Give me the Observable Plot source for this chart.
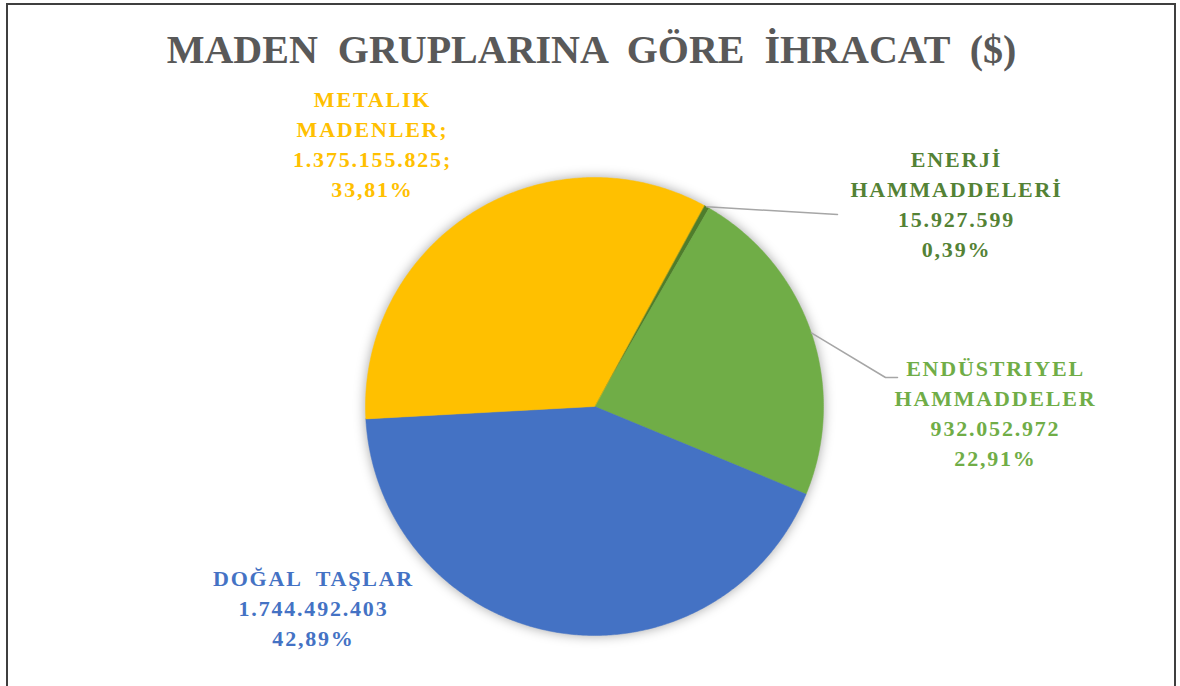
<!DOCTYPE html>
<html>
<head>
<meta charset="utf-8">
<script src="https://cdn.jsdelivr.net/npm/d3@7"></script>
<script src="https://cdn.jsdelivr.net/npm/@observablehq/plot@0.6"></script>
<style>
  html, body { margin: 0; padding: 0; background: #fff; }
  #wrap { position: relative; width: 1180px; height: 686px; overflow: hidden; }
  #frame { position: absolute; left: 6px; top: 3px; width: 1170px; height: 720px; border: 2px solid #3f3f3f; box-sizing: border-box; pointer-events: none; }
  svg text { white-space: pre; }
</style>
</head>
<body>
<div id="wrap"><div id="chart"></div><div id="frame"></div></div>
<script>
// ---- data ----
const title = "MADEN  GRUPLARINA  GÖRE  İHRACAT  ($)";
const categories = ["ENERJİ\nHAMMADDELERİ", "ENDÜSTRIYEL\nHAMMADDELER", "DOĞAL  TAŞLAR", "METALIK\nMADENLER;"];
const values = [15927599, 932052972, 1744492403, 1375155825];
const valueLabels = ["15.927.599", "932.052.972", "1.744.492.403", "1.375.155.825;"];
const percentLabels = ["0,39%", "22,91%", "42,89%", "33,81%"];

// ---- styles / layout ----
const sliceColors = ["#4E7D2C", "#70AD47", "#4472C4", "#FFC000"];
const labelColors = ["#548235", "#70AD47", "#4472C4", "#FFC000"];
const cx = 594, cy = 406, r = 229;
const startDeg = 28.6;
const labelPos = [[956, 202], [995, 411], [313, 606], [372, 142]];
const leaderEnds = [[[837, 214]], [[885, 377], [897, 377]], null, null];

const pie = d3.pie().sort(null).startAngle(startDeg * Math.PI / 180).endAngle((startDeg + 360) * Math.PI / 180)(values);

const polyPts = [];
pie.forEach((a, i) => {
  polyPts.push({x: cx, y: cy, k: i});
  const n = Math.max(2, Math.ceil((a.endAngle - a.startAngle) / (Math.PI / 360)));
  for (let j = 0; j <= n; j++) {
    const t = a.startAngle + (a.endAngle - a.startAngle) * j / n;
    polyPts.push({x: cx + r * Math.sin(t), y: cy - r * Math.cos(t), k: i});
  }
});

const leaderPts = [];
pie.forEach((a, i) => {
  if (!leaderEnds[i]) return;
  const m = (a.startAngle + a.endAngle) / 2;
  leaderPts.push({x: cx + r * Math.sin(m), y: cy - r * Math.cos(m), k: i});
  leaderEnds[i].forEach(([x, y]) => leaderPts.push({x, y, k: i}));
});

const labels = categories.map((c, i) => ({
  x: labelPos[i][0], y: labelPos[i][1], k: i,
  text: c + "\n" + valueLabels[i] + "\n" + percentLabels[i]
}));

const chart = Plot.plot({
  width: 1180, height: 686,
  margin: 0,
  x: {domain: [0, 1180], range: [0, 1180], axis: null},
  y: {domain: [0, 686], range: [0, 686], axis: null},
  style: {fontFamily: "'Liberation Serif', 'Times New Roman', serif", background: "transparent"},
  marks: [
    Plot.line(polyPts, {x: "x", y: "y", z: "k", fill: (d) => sliceColors[d.k], stroke: (d) => sliceColors[d.k], strokeWidth: 0.5, curve: "linear-closed"}),
    Plot.line(leaderPts, {x: "x", y: "y", z: "k", stroke: "#a6a6a6", strokeWidth: 1.5}),
    Plot.text(labels, {x: "x", y: "y", text: "text", fill: (d) => labelColors[d.k], fontSize: 22, fontWeight: "bold", lineHeight: 1.36, lineAnchor: "middle", textAnchor: "middle"}),
    Plot.text([title], {x: () => 591, y: () => 50, text: (d) => d, fontSize: 40, fontWeight: "bold", fill: "#595959", textAnchor: "middle", lineAnchor: "middle"})
  ]
});
document.getElementById("chart").appendChild(chart);
const gs = chart.querySelectorAll('g[aria-label="line"]');
if (gs.length) gs[0].style.filter = "drop-shadow(0px 0px 6px rgba(0,0,0,0.35))";
const tg = chart.querySelectorAll('g[aria-label="text"]');
if (tg.length > 0) tg[0].style.letterSpacing = "1.8px";
if (tg.length > 1) tg[1].style.letterSpacing = "0px";
</script>
</body>
</html>
